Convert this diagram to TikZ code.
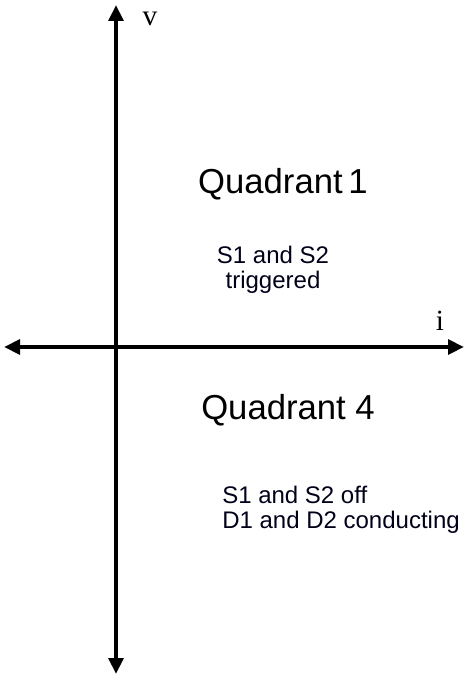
\documentclass[tikz,border=0pt]{standalone}
\usepackage{fontspec}
\setmainfont{Liberation Sans}
\newfontfamily\serifv{Liberation Serif}
\usetikzlibrary{arrows.meta}
\begin{document}
\begin{tikzpicture}[x=0.75pt,y=-0.75pt,
  axis/.style={line width=2.8pt,-{Triangle[length=12pt,width=11pt]}},
  bigtxt/.style={font=\fontsize{26}{30}\selectfont,inner sep=0pt},
  smalltxt/.style={font=\fontsize{18}{19}\selectfont,inner sep=0pt,text=black!90!blue},
  axlabel/.style={font=\serifv\fontsize{22}{24}\selectfont,inner sep=0pt}]
\useasboundingbox (0,0) rectangle (467,677);
\coordinate (top) at (116,5);
\coordinate (bot) at (116,674);
\coordinate (left) at (4,347);
\coordinate (right) at (464,347);
\coordinate (o) at (116,347);
\draw[axis] (o) -- (top);
\draw[axis] (o) -- (bot);
\draw[axis] (o) -- (left);
\draw[axis] (o) -- (right);
\node[axlabel] (v) at (150,19) {v};
\node[axlabel] (i) at (440,321) {i};
\node[bigtxt] (q1) at (283,184) {Quadrant\,1};
\node[smalltxt,align=center] (s1) at (273,270) {S1 and S2\\triggered};
\node[bigtxt] (q4) at (288,410) {Quadrant 4};
\node[smalltxt,align=left,anchor=west] (s4) at (222,510) {S1 and S2 off\\D1 and D2 conducting};
\end{tikzpicture}
\end{document}
